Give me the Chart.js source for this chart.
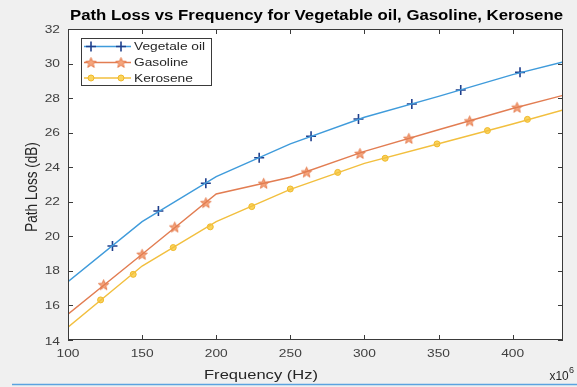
<!DOCTYPE html>
<html>
<head>
<meta charset="utf-8">
<script src="https://cdn.jsdelivr.net/npm/chart.js@4/dist/chart.umd.min.js"></script>
<style>
  html, body { margin: 0; padding: 0; background: #f0f0f0; }
  canvas { display: block; }
</style>
</head>
<body>
<canvas id="lossChart" width="577" height="387"></canvas>
<script>
// frequency axis (MHz, shown with x10^6 multiplier)
const xTicks = [100, 150, 200, 250, 300, 350, 400];
const yTicks = [14, 16, 18, 20, 22, 24, 26, 28, 30, 32];
const xMin = 100, xMax = 434;
const yMin = 14, yMax = 32;

const seriesNames = ["Vegetale oil", "Gasoline", "Kerosene"];

// line vertices
const lineFreq = [100, 150, 200, 250, 300, 350, 400, 434];
const vegLine = [17.38, 20.85, 23.45, 25.35, 26.89, 28.10, 29.36, 30.09];
const gasLine = [15.49, 18.96, 22.45, 23.42, 24.92, 26.17, 27.40, 28.16];
const kerLine = [14.74, 18.28, 20.85, 22.72, 24.22, 25.36, 26.50, 27.31];

// marker positions
const vegMarkX = [130, 161, 193, 229, 264, 296, 332, 365, 405];
const vegMarkY = [19.44, 21.47, 23.07, 24.55, 25.79, 26.79, 27.66, 28.47, 29.49];
const gasMarkX = [124, 150, 172, 193, 232, 261, 297, 330, 371, 403];
const gasMarkY = [17.20, 18.96, 20.54, 21.95, 23.07, 23.72, 24.80, 25.67, 26.68, 27.47];
const kerMarkX = [122, 144, 171, 196, 224, 250, 282, 314, 349, 383, 410];
const kerMarkY = [16.32, 17.80, 19.35, 20.55, 21.72, 22.74, 23.70, 24.52, 25.35, 26.12, 26.77];

const FONT = '"Liberation Sans", Arial, Helvetica, sans-serif';
const SX = 1.25;   // text is drawn a little wide, like the exported figure

const pts = (xs, ys) => xs.map((x, i) => ({ x: x, y: ys[i] }));

// five-pointed star used as the Gasoline marker
function makeStar(size, fill, stroke) {
    const c = document.createElement("canvas");
    c.width = size; c.height = size;
    const g = c.getContext("2d");
    const cx = size / 2, cy = size / 2 + 0.5;
    const ro = size / 2 - 1, ri = ro * 0.42;
    g.beginPath();
    for (let i = 0; i < 10; i++) {
        const r = i % 2 === 0 ? ro : ri;
        const a = -Math.PI / 2 + i * Math.PI / 5;
        const px = cx + r * Math.cos(a), py = cy + r * Math.sin(a);
        if (i === 0) g.moveTo(px, py); else g.lineTo(px, py);
    }
    g.closePath();
    g.fillStyle = fill;
    g.fill();
    g.lineWidth = 1;
    g.strokeStyle = stroke;
    g.stroke();
    return c;
}
const starImg = makeStar(13, "#f5a57c", "#e57c4e");

const colors = {
    veg: { line: "#3f9bdb", mark: "#1f3f8c" },
    gas: { line: "#e27d52", mark: "#e57c4e" },
    ker: { line: "#f2bf3e", mark: "#f0b92a", fill: "#fad45e" }
};

function lineSet(label, ys, color) {
    return {
        label: label,
        data: pts(lineFreq, ys),
        borderColor: color,
        borderWidth: 1.4,
        pointRadius: 0,
        showLine: true,
        tension: 0,
        fill: false
    };
}

const datasets = [
    lineSet(seriesNames[0], vegLine, colors.veg.line),
    lineSet(seriesNames[1], gasLine, colors.gas.line),
    lineSet(seriesNames[2], kerLine, colors.ker.line),
    {
        label: seriesNames[0] + " markers",
        data: pts(vegMarkX, vegMarkY),
        showLine: false,
        pointStyle: "cross",
        pointRadius: 5,
        borderColor: colors.veg.mark,
        borderWidth: 1.6
    },
    {
        label: seriesNames[1] + " markers",
        data: pts(gasMarkX, gasMarkY),
        showLine: false,
        pointStyle: starImg,
        pointRadius: 6
    },
    {
        label: seriesNames[2] + " markers",
        data: pts(kerMarkX, kerMarkY),
        showLine: false,
        pointStyle: "circle",
        pointRadius: 3,
        backgroundColor: colors.ker.fill,
        borderColor: colors.ker.mark,
        borderWidth: 1
    }
];

function drawMarker(ctx, kind, x, y) {
    ctx.save();
    if (kind === 0) {
        ctx.strokeStyle = colors.veg.mark;
        ctx.lineWidth = 1.6;
        ctx.beginPath();
        ctx.moveTo(x - 5, y); ctx.lineTo(x + 5, y);
        ctx.moveTo(x, y - 5); ctx.lineTo(x, y + 5);
        ctx.stroke();
    } else if (kind === 1) {
        ctx.drawImage(starImg, x - starImg.width / 2, y - starImg.height / 2);
    } else {
        ctx.fillStyle = colors.ker.fill;
        ctx.strokeStyle = colors.ker.mark;
        ctx.lineWidth = 1;
        ctx.beginPath();
        ctx.arc(x, y, 3, 0, Math.PI * 2);
        ctx.fill();
        ctx.stroke();
    }
    ctx.restore();
}

// horizontally widened text
function wideText(ctx, text, x, y, align, sx) {
    ctx.save();
    ctx.translate(x, y);
    ctx.scale(sx, 1);
    ctx.textAlign = align;
    ctx.fillText(text, 0, 0);
    ctx.restore();
}

// figure background, axes box, inner ticks, tick labels, legend and titles
const matlabFrame = {
    id: "matlabFrame",
    beforeDraw(chart) {
        const { ctx, chartArea: a } = chart;
        ctx.save();
        ctx.fillStyle = "#f0f0f0";
        ctx.fillRect(0, 0, chart.width, chart.height);
        ctx.fillStyle = "#ffffff";
        ctx.fillRect(a.left, a.top, a.right - a.left, a.bottom - a.top);
        ctx.restore();
    },
    afterDatasetsDraw(chart) {
        const { ctx, chartArea: a, scales } = chart;
        ctx.save();
        ctx.strokeStyle = "#3a3a3a";
        ctx.lineWidth = 1;
        ctx.strokeRect(a.left + 0.5, a.top + 0.5, a.right - a.left - 1, a.bottom - a.top - 1);

        ctx.beginPath();
        xTicks.forEach(v => {
            const px = Math.round(scales.x.getPixelForValue(v)) + 0.5;
            ctx.moveTo(px, a.bottom); ctx.lineTo(px, a.bottom - 5);
            ctx.moveTo(px, a.top); ctx.lineTo(px, a.top + 5);
        });
        yTicks.forEach(v => {
            const py = Math.round(scales.y.getPixelForValue(v)) + 0.5;
            ctx.moveTo(a.left, py); ctx.lineTo(a.left + 5, py);
            ctx.moveTo(a.right, py); ctx.lineTo(a.right - 5, py);
        });
        ctx.stroke();

        // tick labels
        ctx.fillStyle = "#404040";
        ctx.font = "11px " + FONT;
        ctx.textBaseline = "middle";
        xTicks.forEach(v => {
            wideText(ctx, String(v), scales.x.getPixelForValue(v), 354, "center", SX);
        });
        yTicks.forEach(v => {
            const py = scales.y.getPixelForValue(v) + (v === yMin ? 2 : 0.5);
            wideText(ctx, String(v), a.left - 8, py, "right", SX);
        });

        // legend
        const lx = 81, ly = 38, lw = 130, lh = 47;
        ctx.fillStyle = "#ffffff";
        ctx.fillRect(lx, ly, lw, lh);
        ctx.strokeStyle = "#3a3a3a";
        ctx.strokeRect(lx + 0.5, ly + 0.5, lw, lh);
        const lineCols = [colors.veg.line, colors.gas.line, colors.ker.line];
        const rowY = [46.5, 62.5, 78];
        seriesNames.forEach((name, i) => {
            ctx.strokeStyle = lineCols[i];
            ctx.lineWidth = 1.4;
            ctx.beginPath();
            ctx.moveTo(84, rowY[i]); ctx.lineTo(131, rowY[i]);
            ctx.stroke();
            drawMarker(ctx, i, 91, rowY[i]);
            drawMarker(ctx, i, 121, rowY[i]);
            ctx.fillStyle = "#262626";
            ctx.font = "11px " + FONT;
            ctx.textBaseline = "middle";
            wideText(ctx, name, 134, rowY[i] + 0.5, "left", SX);
        });

        // title, stretched to span the axes
        const title = "Path Loss vs Frequency for Vegetable oil, Gasoline, Kerosene";
        ctx.fillStyle = "#000000";
        ctx.font = "bold 14px " + FONT;
        ctx.textBaseline = "middle";
        const tw = ctx.measureText(title).width;
        wideText(ctx, title, (a.left + 2 + a.right) / 2, 16.5, "center", 493 / tw);

        // axis titles
        ctx.fillStyle = "#262626";
        ctx.font = "13.5px " + FONT;
        wideText(ctx, "Frequency (Hz)", 261, 375, "center", SX * 0.98);
        ctx.save();
        ctx.translate(33, 187);
        ctx.scale(SX * 0.95, 1);
        ctx.rotate(-Math.PI / 2);
        ctx.textAlign = "center";
        ctx.fillText("Path Loss (dB)", 0, 0);
        ctx.restore();

        // exponent
        ctx.font = "12.5px " + FONT;
        ctx.textBaseline = "alphabetic";
        wideText(ctx, "x10", 549.5, 380, "left", 0.95);
        ctx.font = "9px " + FONT;
        wideText(ctx, "6", 569, 372.5, "left", 1.0);

        // rule under the figure
        ctx.strokeStyle = "#5ba3e0";
        ctx.lineWidth = 1.5;
        ctx.beginPath();
        ctx.moveTo(12, 384.5); ctx.lineTo(577, 384.5);
        ctx.stroke();
        ctx.restore();
    }
};

const ctx = document.getElementById("lossChart").getContext("2d");

new Chart(ctx, {
    type: "line",
    data: { datasets: datasets },
    options: {
        responsive: false,
        animation: false,
        devicePixelRatio: 1,
        layout: { padding: { left: 0, right: 14, top: 29, bottom: 0 } },
        scales: {
            x: {
                type: "linear",
                min: xMin,
                max: xMax,
                afterBuildTicks: s => { s.ticks = xTicks.map(v => ({ value: v })); },
                afterFit: s => { s.height = 47; },
                grid: { display: false, drawTicks: false },
                border: { display: false },
                ticks: { display: false }
            },
            y: {
                type: "linear",
                min: yMin,
                max: yMax,
                afterBuildTicks: s => { s.ticks = yTicks.map(v => ({ value: v })); },
                afterFit: s => { s.width = 68; },
                grid: { display: false, drawTicks: false },
                border: { display: false },
                ticks: { display: false }
            }
        },
        plugins: {
            legend: { display: false },
            title: { display: false },
            tooltip: { enabled: false }
        }
    },
    plugins: [matlabFrame]
});
</script>
</body>
</html>
